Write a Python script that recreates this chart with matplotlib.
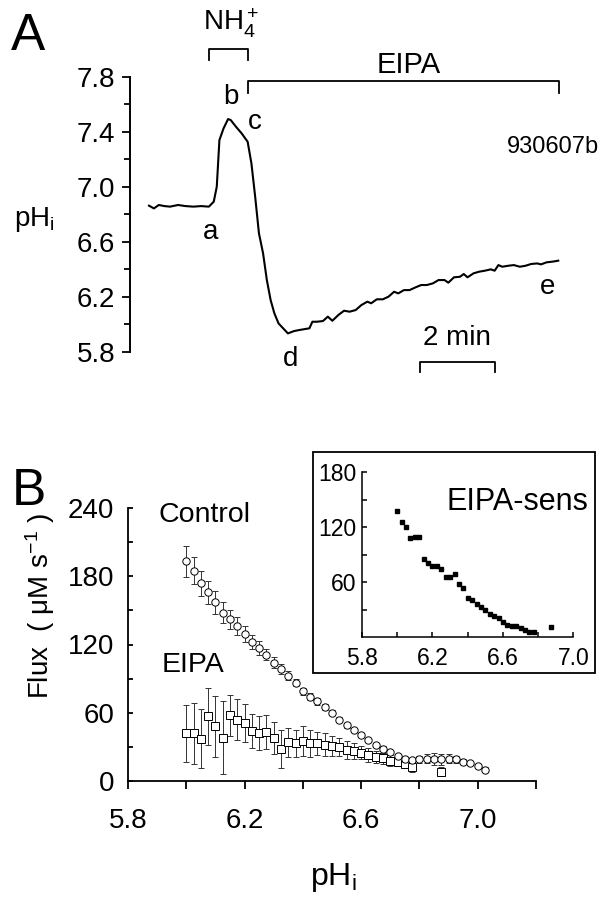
import matplotlib
matplotlib.use("Agg")
import matplotlib.pyplot as plt
from matplotlib import font_manager
from matplotlib.ticker import MultipleLocator, FixedLocator
from matplotlib.patches import Rectangle

# ---------------- fonts ----------------
FAM = "Liberation Sans"
plt.rcParams['font.family'] = [FAM, 'DejaVu Sans']
plt.rcParams['mathtext.fontset'] = 'custom'
plt.rcParams['mathtext.rm'] = FAM
plt.rcParams['mathtext.it'] = FAM

# ---------------- data: panel A (pHi trace, time in min) ----------------
trace_t = [0.01, 0.14, 0.27, 0.42, 0.57, 0.78, 0.98, 1.19, 1.39, 1.60, 1.73, 1.81, 1.88,
           1.99, 2.11, 2.18, 2.32, 2.47, 2.63, 2.73, 2.83, 2.93, 3.04, 3.14, 3.24, 3.34,
           3.45, 3.60, 3.70, 3.86, 4.01, 4.16, 4.27, 4.35, 4.47, 4.63, 4.76, 4.88, 5.04,
           5.19, 5.34, 5.50, 5.65, 5.81, 5.91, 6.06, 6.22, 6.37, 6.52, 6.63, 6.78, 6.93,
           7.09, 7.24, 7.39, 7.55, 7.70, 7.86, 7.96, 8.11, 8.27, 8.37, 8.47, 8.63, 8.78,
           8.93, 9.09, 9.19, 9.29, 9.39, 9.55, 9.70, 9.86, 10.01, 10.16, 10.32, 10.42,
           10.57, 10.73, 10.88]
trace_ph = [6.862, 6.842, 6.867, 6.859, 6.855, 6.867, 6.859, 6.855, 6.859, 6.855, 6.891,
            7.000, 7.339, 7.424, 7.492, 7.485, 7.436, 7.388, 7.327, 7.170, 6.927, 6.661,
            6.515, 6.321, 6.176, 6.079, 6.006, 5.962, 5.933, 5.950, 5.958, 5.965, 5.970,
            6.018, 6.018, 6.023, 6.055, 6.025, 6.067, 6.098, 6.091, 6.103, 6.139, 6.164,
            6.152, 6.181, 6.181, 6.200, 6.236, 6.224, 6.248, 6.248, 6.268, 6.285, 6.285,
            6.297, 6.321, 6.321, 6.302, 6.341, 6.345, 6.365, 6.341, 6.370, 6.382, 6.389,
            6.399, 6.389, 6.430, 6.418, 6.425, 6.430, 6.418, 6.425, 6.438, 6.442, 6.435,
            6.450, 6.455, 6.462]
nh4_on, nh4_off = 1.60, 2.65
eipa_on, eipa_off = 2.65, 10.90
bar_start, bar_len = 7.2, 2.0          # "2 min" scale bar
phA_ticks = [5.8, 6.2, 6.6, 7.0, 7.4, 7.8]

# ---------------- data: panel B ----------------
ctrl_ph = [6.000, 6.025, 6.050, 6.075, 6.100, 6.125, 6.150, 6.175, 6.200, 6.225, 6.250,
           6.275, 6.300, 6.325, 6.350, 6.375, 6.400, 6.425, 6.450, 6.475, 6.500, 6.525,
           6.550, 6.575, 6.600, 6.625, 6.650, 6.675, 6.700, 6.725, 6.750, 6.775, 6.800,
           6.825, 6.850, 6.875, 6.900, 6.925, 6.950, 6.975, 7.000, 7.025]
ctrl_flux = [193, 185, 174, 166, 157, 148, 142, 136, 129, 122, 117, 111, 104, 98.5, 92.5,
             86.5, 79, 74, 70, 65, 60, 54, 49, 45, 40.5, 36, 31.5, 28.5, 25.5, 22, 19,
             18.5, 19, 19.5, 19.5, 19, 19.5, 19, 17, 16, 13, 10]
ctrl_err = [14, 12, 11, 10, 10, 9, 8, 8, 7, 6, 6, 5, 5, 4, 4, 3, 3, 3, 3, 3, 2, 2, 2, 2, 2,
            2, 2, 2, 2, 2, 2, 2, 3, 4, 5, 5, 4, 3, 2, 2, 2, 2]

eipa_ph = [6.000, 6.025, 6.050, 6.075, 6.100, 6.125, 6.150, 6.175, 6.200, 6.225, 6.250,
           6.275, 6.300, 6.325, 6.350, 6.375, 6.400, 6.425, 6.450, 6.475, 6.500, 6.525,
           6.550, 6.575, 6.600, 6.625, 6.650, 6.675, 6.700, 6.725, 6.750, 6.775, 6.875]
eipa_flux = [42, 42, 37, 57, 48, 38, 58, 54, 51, 44, 42, 43, 38, 28, 34, 33, 35, 33, 33,
             32, 31, 30, 27, 26, 25, 23, 21, 20, 18, 17, 15, 12, 8]
eipa_err = [25, 27, 26, 25, 27, 32, 18, 18, 17, 15, 15, 15, 14, 17, 13, 12, 13, 12, 10,
            10, 9, 8, 8, 7, 6, 6, 5, 5, 5, 4, 4, 4, 4]

sens_ph = [6.000, 6.025, 6.050, 6.075, 6.100, 6.125, 6.150, 6.175, 6.200, 6.225, 6.250,
           6.275, 6.300, 6.325, 6.350, 6.375, 6.400, 6.425, 6.450, 6.475, 6.500, 6.525,
           6.550, 6.575, 6.600, 6.625, 6.650, 6.675, 6.700, 6.725, 6.750, 6.775, 6.875]
sens_flux = [137, 125.5, 119.5, 108, 109, 109, 85, 81, 78, 77.5, 74, 66, 65, 69, 57.5,
             54, 43, 40.5, 36.5, 33, 29.5, 25.5, 23, 21, 16.5, 13.5, 12.5, 11.5, 10, 8,
             5.5, 6, 11]

W, H = 607, 900
fig = plt.figure(figsize=(W / 100, H / 100), dpi=100)


def rect(x0, y0, x1, y1):
    return [x0 / W, 1 - y1 / H, (x1 - x0) / W, (y1 - y0) / H]


def ftxt(x, y, s, **kw):
    fig.text(x / W, 1 - y / H, s, **kw)


# ================= Panel A =================
axA = fig.add_axes(rect(129.8, 76.7, 581.6, 351.7))
axA.plot(trace_t, trace_ph, color='black', lw=1.5)
axA.set_xlim(-0.5, 11.5)
axA.set_ylim(5.8, 7.8)
for s in ['top', 'right', 'bottom']:
    axA.spines[s].set_visible(False)
axA.spines['left'].set_linewidth(1.4)
axA.set_xticks([])
axA.yaxis.set_major_locator(FixedLocator(phA_ticks))
axA.yaxis.set_minor_locator(MultipleLocator(0.2))
axA.set_yticklabels([f"{v:.1f}" for v in phA_ticks])
axA.tick_params(axis='y', which='major', direction='out', length=5.5, width=1.3,
                labelsize=20, pad=5)
axA.tick_params(axis='y', which='minor', direction='out', length=4, width=1.3)

kw_br = dict(color='black', lw=1.3, clip_on=False)
axA.plot([nh4_on, nh4_on, nh4_off, nh4_off], [7.92, 8.0, 8.0, 7.92], **kw_br)
axA.plot([eipa_on, eipa_on, eipa_off, eipa_off], [7.68, 7.77, 7.77, 7.68], **kw_br)
axA.plot([bar_start, bar_start, bar_start + bar_len, bar_start + bar_len],
         [5.655, 5.728, 5.728, 5.655], **kw_br)

tA = dict(ha='center', va='center')
axA.text(2.2, 8.19, r'NH$\mathregular{_4^+}$', clip_on=False, fontsize=20, **tA)
axA.text(6.92, 7.885, 'EIPA', clip_on=False, fontsize=21, **tA)
axA.text(bar_start + bar_len / 2, 5.90, '2 min', fontsize=20, **tA)
axA.text(1.65, 6.67, 'a', fontsize=20, **tA)
axA.text(2.18, 7.65, 'b', fontsize=20, **tA)
axA.text(2.83, 7.47, 'c', fontsize=20, **tA)
axA.text(3.78, 5.75, 'd', clip_on=False, fontsize=20, **tA)
axA.text(10.6, 6.27, 'e', fontsize=20, **tA)
axA.text(10.74, 7.29, '930607b', fontsize=17, **tA)

ftxt(34, 220, r'pH$\mathregular{_i}$', ha='center', va='center', fontsize=20)
ftxt(28, 36, 'A', ha='center', va='center', fontsize=37)

# ================= Panel B main =================
axB = fig.add_axes(rect(128, 508, 536, 781))
axB.errorbar(ctrl_ph, ctrl_flux, yerr=ctrl_err, fmt='o', ms=5.3, mfc='white',
             mec='black', mew=0.7, ecolor='#333333', elinewidth=0.7, capsize=2,
             capthick=0.7, zorder=3)
axB.errorbar(eipa_ph, eipa_flux, yerr=eipa_err, fmt='s', ms=5.3, mfc='white',
             mec='black', mew=0.7, ecolor='#333333', elinewidth=0.7, capsize=2,
             capthick=0.7, zorder=2)
axB.set_xlim(5.8, 7.2)
axB.set_ylim(0, 240)
for s in ['top', 'right']:
    axB.spines[s].set_visible(False)
for s in ['left', 'bottom']:
    axB.spines[s].set_linewidth(1.3)
axB.xaxis.set_major_locator(FixedLocator([5.8, 6.2, 6.6, 7.0]))
axB.xaxis.set_minor_locator(FixedLocator([6.0, 6.4, 6.8, 7.2]))
axB.set_xticklabels(['5.8', '6.2', '6.6', '7.0'])
axB.yaxis.set_major_locator(MultipleLocator(60))
axB.yaxis.set_minor_locator(MultipleLocator(30))
axB.tick_params(axis='x', which='both', direction='out', length=5.5, width=1.3,
                labelsize=20, pad=14)
axB.tick_params(axis='y', which='both', direction='in', length=3.5, width=1.3,
                labelsize=20, pad=10)
axB.text(6.064, 234, 'Control', ha='center', va='center', fontsize=20.5)
axB.text(6.023, 102, 'EIPA', ha='center', va='center', fontsize=20.5)

ftxt(333, 877, r'pH$\mathregular{_i}$', ha='center', va='center', fontsize=23)
ftxt(40, 606, r'Flux  ( μM s$\mathregular{^{-1}}$ )', ha='center', va='center',
     fontsize=20, rotation=90)
ftxt(29, 492, 'B', ha='center', va='center', fontsize=37)

# ================= Inset =================
fig.patches.append(Rectangle((312.5 / W, 1 - 673 / H), (595 - 312.5) / W,
                             (673 - 451.5) / H, transform=fig.transFigure,
                             fill=False, ec='black', lw=1.3))
axI = fig.add_axes(rect(362, 472, 573.5, 637))
axI.plot(sens_ph, sens_flux, 's', ms=3.0, color='black')
axI.set_xlim(5.8, 7.0)
axI.set_ylim(0, 180)
for s in ['top', 'right']:
    axI.spines[s].set_visible(False)
for s in ['left', 'bottom']:
    axI.spines[s].set_linewidth(1.1)
axI.xaxis.set_major_locator(FixedLocator([5.8, 6.2, 6.6, 7.0]))
axI.xaxis.set_minor_locator(FixedLocator([6.0, 6.4, 6.8]))
axI.set_xticklabels(['5.8', '6.2', '6.6', '7.0'])
axI.yaxis.set_major_locator(FixedLocator([60, 120, 180]))
axI.yaxis.set_minor_locator(FixedLocator([30, 90, 150]))
axI.set_yticklabels(['60', '120', '180'])
axI.tick_params(axis='both', which='both', direction='in', length=3.5, width=1.1,
                labelsize=16.5)
axI.tick_params(axis='x', pad=7)
axI.tick_params(axis='y', pad=4)
axI.text(6.68, 147, 'EIPA-sens', ha='center', va='center', fontsize=22)

fig.savefig('out.png', dpi=100)
